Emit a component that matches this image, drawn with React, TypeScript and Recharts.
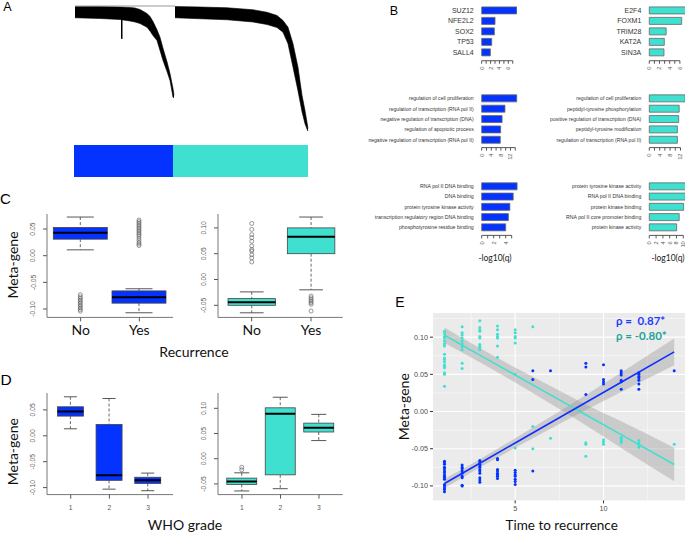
import { Area, Bar, BarChart, CartesianGrid, ComposedChart, Line, Scatter, XAxis, YAxis } from "recharts";

const BLUE = "#0433ff";
const TURQ = "#40e0d0";
const INK = "#333";
const ARIAL = "'Liberation Sans', Arial, sans-serif";
const CALIBRI = "Lato, 'Liberation Sans', sans-serif";

// ---- A: dendrogram outline (leaf position, lower / upper merge height)
const tree1Pos = [1, 26, 46, 56, 61, 66, 73, 76, 79, 83, 86, 89, 93, 96, 99, 100];
const tree1Lo = [0.91, 0.904, 0.896, 0.884, 0.876, 0.864, 0.834, 0.804, 0.768, 0.728, 0.648, 0.568, 0.48, 0.408, 0.274, 0.27];
const tree1Hi = [1.0, 1.0, 0.996, 0.992, 0.988, 0.976, 0.944, 0.92, 0.88, 0.814, 0.754, 0.666, 0.558, 0.464, 0.344, 0.29];
const tree2Pos = [101, 126, 153, 179, 193, 203, 209, 214, 219, 224, 228, 231, 234];
const tree2Lo = [0.91, 0.902, 0.894, 0.876, 0.856, 0.832, 0.794, 0.702, 0.514, 0.325, 0.158, 0.062, 0.0];
const tree2Hi = [1.0, 0.996, 0.99, 0.974, 0.954, 0.928, 0.888, 0.834, 0.702, 0.514, 0.29, 0.168, 0.024];
const spikePos = [47, 48.5];
const spikeLo = [0.744, 0.744];
const spikeHi = [0.99, 0.99];
const rootPos = [1, 101];
const rootHeight = 1.004;
const moduleSizes = [99, 135];

// ---- B: enrichment, -log10(q)
const tfLeftNames = ["SUZ12", "NFE2L2", "SOX2", "TP53", "SALL4"];
const tfLeftQ = [7.9, 3.0, 2.85, 2.25, 1.95];
const tfRightNames = ["E2F4", "FOXM1", "TRIM28", "KAT2A", "SIN3A"];
const tfRightQ = [7.2, 6.35, 3.3, 2.94, 2.88];
const bpLeftNames = [
  "regulation of cell proliferation",
  "regulation of transcription (RNA pol II)",
  "negative regulation of transcription (DNA)",
  "regulation of apoptotic process",
  "negative regulation of transcription (RNA pol II)",
];
const bpLeftQ = [14.6, 9.7, 8.5, 7.9, 7.75];
const bpRightNames = [
  "regulation of cell proliferation",
  "peptidyl-tyrosine phosphorylation",
  "positive regulation of transcription (DNA)",
  "peptidyl-tyrosine modification",
  "regulation of transcription (RNA pol II)",
];
const bpRightQ = [13.8, 11.5, 11.3, 10.8, 10.8];
const mfLeftNames = [
  "RNA pol II DNA binding",
  "DNA binding",
  "protein tyrosine kinase activity",
  "transcription regulatory region DNA binding",
  "phosphotyrosine residue binding",
];
const mfLeftQ = [5.9, 5.25, 4.7, 4.45, 4.0];
const mfRightNames = [
  "protein tyrosine kinase activity",
  "RNA pol II DNA binding",
  "protein kinase binding",
  "RNA pol II core promoter binding",
  "protein kinase activity",
];
const mfRightQ = [10.8, 10.6, 10.1, 8.8, 8.06];

const ticks0to7 = [0, 1, 2, 3, 4, 5, 6, 7];
const ticks0to6 = [0, 1, 2, 3, 4, 5, 6];
const ticks0to14 = [0, 2, 4, 6, 8, 10, 12, 14];
const ticks0to12 = [0, 2, 4, 6, 8, 10, 12];
const ticks0to5 = [0, 1, 2, 3, 4, 5];
const ticks0to10 = [0, 2, 4, 6, 8, 10];

// ---- C / D: box plots, [lower whisker, q1, median, q3, upper whisker]
const recurGroups = ["No", "Yes"];
const cBlueBox = [[0.011, 0.031, 0.043, 0.053, 0.0725], [-0.107, -0.089, -0.078, -0.066, -0.062]];
const cBlueOut = [
  [-0.073, -0.077, -0.08, -0.083, -0.086, -0.089, -0.092, -0.095, -0.098, -0.101, -0.104],
  [0.067, 0.064, 0.061, 0.058, 0.055, 0.052, 0.049, 0.046, 0.043, 0.04, 0.037, 0.033, 0.029, 0.025, 0.022, 0.019],
];
const cTurqBox = [[-0.0645, -0.05, -0.044, -0.037, -0.024], [-0.02, 0.05, 0.083, 0.1, 0.121]];
const cTurqOut = [
  [0.1085, 0.097, 0.087, 0.081, 0.074, 0.065, 0.058, 0.055, 0.048, 0.042, 0.034],
  [-0.032, -0.0355, -0.039, -0.042, -0.045, -0.048, -0.061],
];
const gradeGroups = ["1", "2", "3"];
const dBlueBox = [[0.0135, 0.038, 0.047, 0.056, 0.0753], [-0.103, -0.086, -0.076, 0.022, 0.072], [-0.106, -0.092, -0.086, -0.08, -0.072]];
const dBlueOut = [[], [], []];
const dTurqBox = [[-0.064, -0.051, -0.045, -0.0385, -0.028], [-0.0595, -0.032, 0.089, 0.101, 0.122], [0.036, 0.053, 0.0615, 0.0706, 0.088]];
const dTurqOut = [[-0.017, -0.022], [], []];

// ---- E: meta-gene vs time to recurrence
const blueByTime: [number, number[]][] = [
  [1, [-0.067, -0.069, -0.071, -0.075, -0.077, -0.08, -0.082, -0.085, -0.087, -0.089, -0.091, -0.098, -0.1, -0.103, -0.105, -0.108]],
  [2, [-0.072, -0.075, -0.077, -0.08, -0.083, -0.087, -0.089, -0.099, -0.1]],
  [3, [-0.066, -0.068, -0.071, -0.073, -0.075, -0.078, -0.08, -0.083, -0.089, -0.092, -0.095]],
  [4, [-0.063, -0.065, -0.078, -0.08, -0.083, -0.085, -0.087, -0.09]],
  [5, [-0.079, -0.082, -0.085, -0.087, -0.091, -0.094, -0.098]],
  [6, [0.055, 0.043, -0.08]],
  [7, [0.055]],
  [9, [0.065, 0.06, 0.023]],
  [10, [0.063, 0.043, 0.04, 0.037]],
  [11, [0.055, 0.052, 0.049, 0.042, 0.04, 0.03]],
  [12, [0.052, 0.05, 0.047, 0.045, 0.042, 0.037, 0.03]],
  [14, [0.055]],
];
const turqByTime: [number, number[]][] = [
  [1, [0.108, 0.105, 0.101, 0.099, 0.095, 0.091, 0.088, 0.077, 0.072, 0.07, 0.067, 0.063, 0.061, 0.059, 0.052, 0.05, 0.034]],
  [2, [0.114, 0.106, 0.103, 0.099, 0.095, 0.091, 0.087, 0.083, 0.065, 0.058]],
  [3, [0.122, 0.113, 0.11, 0.108, 0.101, 0.099, 0.09, 0.088, 0.086, 0.083]],
  [4, [0.115, 0.11, 0.104, 0.101, 0.099, 0.088, 0.073]],
  [5, [0.11, 0.106, 0.101, 0.099, 0.092, 0.05, -0.049]],
  [6, [0.114, -0.02, -0.05]],
  [7, [-0.036]],
  [9, [-0.042, -0.044, -0.06]],
  [10, [-0.038, -0.041, -0.044]],
  [11, [-0.035, -0.036, -0.038, -0.04, -0.042]],
  [12, [-0.039, -0.042, -0.045, -0.048]],
  [14, [-0.044]],
];
const fitTimes = [1, 3, 5, 7, 9, 11, 14];
const blueFit = [-0.0968, -0.0696, -0.0423, -0.0151, 0.0121, 0.0394, 0.0802];
const blueLo = [-0.1033, -0.0751, -0.0488, -0.0231, 0.0021, 0.0264, 0.0622];
const blueHi = [-0.0903, -0.0641, -0.0358, -0.0071, 0.0221, 0.0524, 0.0982];
const turqFit = [0.1026, 0.0759, 0.0491, 0.0224, -0.0044, -0.0311, -0.0712];
const turqLo = [0.0921, 0.0664, 0.0391, 0.0104, -0.0184, -0.0491, -0.0937];
const turqHi = [0.1131, 0.0854, 0.0591, 0.0344, 0.0096, -0.0131, -0.0487];
const eYTicks = [-0.1, -0.05, 0, 0.05, 0.1];
const eYMinor = [-0.075, -0.025, 0.025, 0.075, 0.125];
const eXTicks = [5, 10];
const eXMinor = [2.5, 7.5, 12.5];

const noMargin = { top: 0, right: 0, bottom: 0, left: 0 };

function dendroRows() {
  const rows: Record<string, any> = {};
  const put = (pos: number, key: string, val: any) => {
    rows[pos] = rows[pos] || { pos };
    rows[pos][key] = val;
  };
  tree1Pos.forEach((p, i) => put(p, "c1", [tree1Lo[i], tree1Hi[i]]));
  tree2Pos.forEach((p, i) => put(p, "c2", [tree2Lo[i], tree2Hi[i]]));
  spikePos.forEach((p, i) => put(p, "spike", [spikeLo[i], spikeHi[i]]));
  rootPos.forEach((p) => put(p, "root", rootHeight));
  return Object.values(rows).sort((a: any, b: any) => a.pos - b.pos);
}

function Dendrogram() {
  const data = dendroRows();
  return (
    <ComposedChart width={236} height={127.5} data={data} margin={noMargin}>
      <XAxis type="number" dataKey="pos" domain={[0, 236]} hide />
      <YAxis domain={[0, 1.02]} hide />
      {["c1", "c2", "spike"].map((k) => (
        <Area key={k} type="linear" dataKey={k} stroke="#000" strokeWidth={0.6} fill="#000" fillOpacity={1}
          connectNulls dot={false} activeDot={false} isAnimationActive={false} />
      ))}
      <Line dataKey="root" stroke="#999" strokeWidth={1} dot={false} connectNulls isAnimationActive={false} />
    </ComposedChart>
  );
}

function ModuleBar() {
  const data = [{ m: "modules", blue: moduleSizes[0], turq: moduleSizes[1] }];
  return (
    <BarChart layout="vertical" width={234} height={32} data={data} margin={noMargin} barCategoryGap={0}>
      <XAxis type="number" domain={[0, moduleSizes[0] + moduleSizes[1]]} hide />
      <YAxis type="category" dataKey="m" hide />
      <Bar dataKey="blue" stackId="s" fill={BLUE} isAnimationActive={false} />
      <Bar dataKey="turq" stackId="s" fill={TURQ} isAnimationActive={false} />
    </BarChart>
  );
}

type GoProps = {
  names: string[]; q: number[]; color: string; left: number; barStart: number; top: number;
  slot: number; pad: number; unit: number; max: number; ticks: number[]; every: number; font: number;
};

function GoBars({ names, q, color, left, barStart, top, slot, pad, unit, max, ticks, every, font }: GoProps) {
  const data = names.map((n, i) => ({ n, q: q[i] }));
  const yw = barStart - left;
  const plotH = slot * names.length + pad;
  const lastTick = ticks[ticks.length - 1];
  const xTick = (p: any) => {
    const { x, y, payload } = p;
    if (payload.value % every !== 0) return <g />;
    return (
      <text x={x} y={y} transform={`rotate(-90 ${x} ${y})`} textAnchor="end" dominantBaseline="central"
        fontSize={5.6} fill="#555" fontFamily={ARIAL}>{payload.value}</text>
    );
  };
  const yTick = (p: any) => (
    <text x={p.x} y={p.y} textAnchor="end" dominantBaseline="central" fontSize={font} fill={INK} fontFamily={ARIAL}>
      {p.payload.value}
    </text>
  );
  return (
    <div style={{ position: "absolute", left, top }}>
      <BarChart layout="vertical" width={yw + max * unit} height={plotH + 22} data={data} margin={noMargin} barCategoryGap="18%">
        <XAxis type="number" domain={[0, max]} ticks={ticks} interval={0} height={22} tickSize={3} tickMargin={3}
          axisLine={{ stroke: "#555", strokeDasharray: `${lastTick * unit} 999` }} tickLine={{ stroke: "#555" }} tick={xTick} />
        <YAxis type="category" dataKey="n" width={yw} interval={0} tickSize={0} tickMargin={8} axisLine={false} tickLine={false}
          padding={{ top: 0, bottom: pad }} tick={yTick} />
        <Bar dataKey="q" fill={color} stroke="#666" strokeWidth={0.8} isAnimationActive={false} />
      </BarChart>
    </div>
  );
}

const fmt2 = (v: number) => v.toFixed(2);

function boxShape(color: string) {
  return (p: any) => {
    const { x, y, width, height, payload } = p;
    const s: number[] = payload.s;
    const top = Math.min(y, y + height);
    const bot = Math.max(y, y + height);
    const py = (v: number) => top + ((s[4] - v) / (s[4] - s[0])) * (bot - top);
    const cx = x + width / 2;
    const cap = width / 4;
    return (
      <g>
        <line x1={cx} x2={cx} y1={py(s[4])} y2={py(s[3])} stroke="#444" strokeWidth={0.8} strokeDasharray="3 2" />
        <line x1={cx} x2={cx} y1={py(s[1])} y2={py(s[0])} stroke="#444" strokeWidth={0.8} strokeDasharray="3 2" />
        <line x1={cx - cap} x2={cx + cap} y1={py(s[4])} y2={py(s[4])} stroke="#444" strokeWidth={0.9} />
        <line x1={cx - cap} x2={cx + cap} y1={py(s[0])} y2={py(s[0])} stroke="#444" strokeWidth={0.9} />
        <rect x={x} y={py(s[3])} width={width} height={py(s[1]) - py(s[3])} fill={color} stroke="#444" strokeWidth={0.8} />
        <line x1={x} x2={x + width} y1={py(s[2])} y2={py(s[2])} stroke="#000" strokeWidth={2} />
        {(payload.out as number[]).map((v, i) => (
          <circle key={i} cx={cx} cy={py(v)} r={2} fill="none" stroke="#555" strokeWidth={0.6} />
        ))}
      </g>
    );
  };
}

type BoxProps = {
  groups: string[]; boxes: number[][]; outs: number[][]; color: string;
  frame: [number, number, number, number]; domain: [number, number]; ticks: number[];
  padL: number; padR: number; barSize: number; big: boolean;
};

function BoxPanel({ groups, boxes, outs, color, frame, domain, ticks, padL, padR, barSize, big }: BoxProps) {
  const [l, t, r, b] = frame;
  const data = groups.map((g, i) => ({ g, range: [boxes[i][0], boxes[i][4]], s: boxes[i], out: outs[i] }));
  const yTick = (p: any) => {
    const { x, y, payload } = p;
    const tx = x - 7;
    return (
      <text x={tx} y={y} transform={`rotate(-90 ${tx} ${y})`} textAnchor="middle" dominantBaseline="central"
        fontSize={6.8} fill="#555" fontFamily={ARIAL}>{fmt2(payload.value)}</text>
    );
  };
  const xTick = big
    ? { fontSize: 14, fill: "#111", fontFamily: CALIBRI }
    : { fontSize: 6.8, fill: "#555", fontFamily: ARIAL };
  return (
    <div style={{ position: "absolute", left: l - 40, top: t }}>
      <ComposedChart width={40 + (r - l) + 1} height={b - t + 26} data={data} margin={{ top: 0, right: 1, bottom: 0, left: 0 }}>
        <XAxis dataKey="g" type="category" height={26} padding={{ left: padL, right: padR }} tickSize={4}
          tickMargin={big ? 4 : 7} axisLine={{ stroke: "#777" }} tickLine={{ stroke: "#555" }} tick={xTick} interval={0} />
        <XAxis xAxisId="top" dataKey="g" orientation="top" height={0} tick={false} tickLine={false} axisLine={{ stroke: "#777" }} />
        <YAxis domain={domain} ticks={ticks} allowDataOverflow width={40} tickSize={4} tickMargin={3}
          axisLine={{ stroke: "#777" }} tickLine={{ stroke: "#555" }} tick={yTick} interval={0} />
        <YAxis yAxisId="right" orientation="right" domain={domain} allowDataOverflow width={0} tick={false} tickLine={false}
          axisLine={{ stroke: "#777" }} />
        <Bar dataKey="range" barSize={barSize} shape={boxShape(color)} isAnimationActive={false} />
      </ComposedChart>
    </div>
  );
}

function flatten(rows: [number, number[]][]) {
  return rows.flatMap(([t, vs]) => vs.map((v) => ({ x: t, y: v })));
}

function Regression() {
  const fit = fitTimes.map((x, i) => ({
    x,
    blueBand: [blueLo[i], blueHi[i]],
    turqBand: [turqLo[i], turqHi[i]],
    blue: blueFit[i],
    turq: turqFit[i],
  }));
  const dot = (c: string) => (p: any) => <circle cx={p.cx} cy={p.cy} r={1.5} fill={c} />;
  const tickStyle = { fontSize: 7.2, fill: "#4d4d4d", fontFamily: ARIAL };
  return (
    <ComposedChart width={292.7} height={207.4} data={fit} margin={noMargin}>
      <CartesianGrid fill="#ebebeb" stroke="#fff" strokeWidth={0.5} horizontalValues={eYMinor} verticalValues={eXMinor} />
      <CartesianGrid stroke="#fff" strokeWidth={1.1} horizontalValues={eYTicks} verticalValues={eXTicks} />
      <XAxis type="number" dataKey="x" domain={[0.35, 14.65]} ticks={eXTicks} allowDataOverflow height={20}
        tickSize={3} tickMargin={2} axisLine={false} tickLine={{ stroke: "#333" }} tick={tickStyle} />
      <YAxis type="number" domain={[-0.1195, 0.1325]} ticks={eYTicks} allowDataOverflow width={40} tickSize={3}
        tickMargin={2} axisLine={false} tickLine={{ stroke: "#333" }} tick={tickStyle} tickFormatter={fmt2} />
      <Scatter data={flatten(turqByTime)} dataKey="y" fill={TURQ} shape={dot(TURQ)} isAnimationActive={false} />
      <Scatter data={flatten(blueByTime)} dataKey="y" fill={BLUE} shape={dot(BLUE)} isAnimationActive={false} />
      <Area type="monotone" dataKey="turqBand" stroke="none" fill="#999" fillOpacity={0.4} dot={false} activeDot={false} isAnimationActive={false} />
      <Area type="monotone" dataKey="blueBand" stroke="none" fill="#999" fillOpacity={0.4} dot={false} activeDot={false} isAnimationActive={false} />
      <Line dataKey="turq" stroke={TURQ} strokeWidth={1.6} dot={false} isAnimationActive={false} />
      <Line dataKey="blue" stroke="#1030ff" strokeWidth={1.6} dot={false} isAnimationActive={false} />
    </ComposedChart>
  );
}

function Label({ x, y, text, size, rotate = false, font = CALIBRI, color = "#111", weight = "normal", anchor = "middle" }: any) {
  return (
    <text x={x} y={y} fontSize={size} fontFamily={font} fill={color} fontWeight={weight} textAnchor={anchor}
      dominantBaseline="central" transform={rotate ? `rotate(-90 ${x} ${y})` : undefined} style={{ whiteSpace: "pre" }}>
      {text}
    </text>
  );
}

export default function App() {
  return (
    <div style={{ position: "absolute", left: 0, top: 0, width: 685, height: 533, overflow: "hidden", background: "#fff", fontFamily: ARIAL }}>
      <div style={{ position: "absolute", left: 74, top: 3.5 }}><Dendrogram /></div>
      <div style={{ position: "absolute", left: 74, top: 145 }}><ModuleBar /></div>

      <GoBars names={tfLeftNames} q={tfLeftQ} color={BLUE} left={330} barStart={481.7} top={5.25} slot={10.5} pad={3.25}
        unit={4.44} max={8} ticks={ticks0to7} every={2} font={7} />
      <GoBars names={tfRightNames} q={tfRightQ} color={TURQ} left={490} barStart={649.3} top={5.25} slot={10.5} pad={3.25}
        unit={5.1} max={7.2} ticks={ticks0to6} every={2} font={7} />
      <GoBars names={bpLeftNames} q={bpLeftQ} color={BLUE} left={330} barStart={481.7} top={93.1} slot={10.35} pad={2.85}
        unit={2.4} max={15} ticks={ticks0to14} every={4} font={5.1} />
      <GoBars names={bpRightNames} q={bpRightQ} color={TURQ} left={490} barStart={649.3} top={93.1} slot={10.35} pad={2.85}
        unit={2.6} max={14} ticks={ticks0to12} every={4} font={5.1} />
      <GoBars names={mfLeftNames} q={mfLeftQ} color={BLUE} left={330} barStart={481.7} top={180.6} slot={10.25} pad={3.15}
        unit={6} max={6} ticks={ticks0to5} every={2} font={5.2} />
      <GoBars names={mfRightNames} q={mfRightQ} color={TURQ} left={490} barStart={649.3} top={180.6} slot={10.25} pad={3.15}
        unit={3.4} max={11} ticks={ticks0to10} every={2} font={5.2} />

      <BoxPanel groups={recurGroups} boxes={cBlueBox} outs={cBlueOut} color={BLUE} frame={[47.3, 214.3, 173.3, 317.7]}
        domain={[-0.1157, 0.0782]} ticks={[-0.1, -0.05, 0, 0.05]} padL={4.3} padR={4.3} barSize={54} big />
      <BoxPanel groups={recurGroups} boxes={cTurqBox} outs={cTurqOut} color={TURQ} frame={[218.3, 214.3, 343, 317.7]}
        domain={[-0.0734, 0.1269]} ticks={[-0.05, 0, 0.05, 0.1]} padL={4} padR={2} barSize={47.5} big />
      <BoxPanel groups={gradeGroups} boxes={dBlueBox} outs={dBlueOut} color={BLUE} frame={[47.3, 392.7, 173.3, 494.3]}
        domain={[-0.1135, 0.0826]} ticks={[-0.1, -0.05, 0, 0.05]} padL={4.4} padR={5.6} barSize={26} big={false} />
      <BoxPanel groups={gradeGroups} boxes={dTurqBox} outs={dTurqOut} color={TURQ} frame={[218.3, 392.7, 343, 494.3]}
        domain={[-0.0712, 0.1304]} ticks={[-0.05, 0, 0.05, 0.1]} padL={4.75} padR={4.45} barSize={30} big={false} />

      <div style={{ position: "absolute", left: 393.3, top: 313.3 }}><Regression /></div>

      <svg width={685} height={533} style={{ position: "absolute", left: 0, top: 0, pointerEvents: "none" }}>
        <Label x={7.5} y={7.2} text="A" size={12.5} font={ARIAL} color="#000" />
        <Label x={394} y={10.5} text="B" size={12.5} font={ARIAL} color="#000" />
        <Label x={5.5} y={198} text="C" size={15} font={ARIAL} color="#000" />
        <Label x={6} y={379.3} text="D" size={15.5} font={ARIAL} color="#000" />
        <Label x={400} y={301.7} text="E" size={14} font={ARIAL} color="#000" />
        <Label x={495} y={258} text="-log10(q)" size={8.5} color="#222" />
        <Label x={668} y={258} text="-log10(q)" size={8.5} color="#222" />
        <Label x={12.5} y={265} text="Meta-gene" size={14} rotate />
        <Label x={194} y={351} text="Recurrence" size={14} />
        <Label x={13} y={451.7} text="Meta-gene" size={14} rotate />
        <Label x={185} y={524.5} text="WHO grade" size={14} />
        <Label x={403.3} y={406.7} text="Meta-gene" size={14} rotate />
        <Label x={561.7} y={525} text="Time to recurrence" size={13.5} />
        <Label x={616} y={320} text={"ρ =  0.87*"} size={11.5} weight="bold" color="#1f3cff" anchor="start" />
        <Label x={616} y={335} text={"ρ = -0.80*"} size={11.5} weight="bold" color="#1fa397" anchor="start" />
      </svg>
    </div>
  );
}
